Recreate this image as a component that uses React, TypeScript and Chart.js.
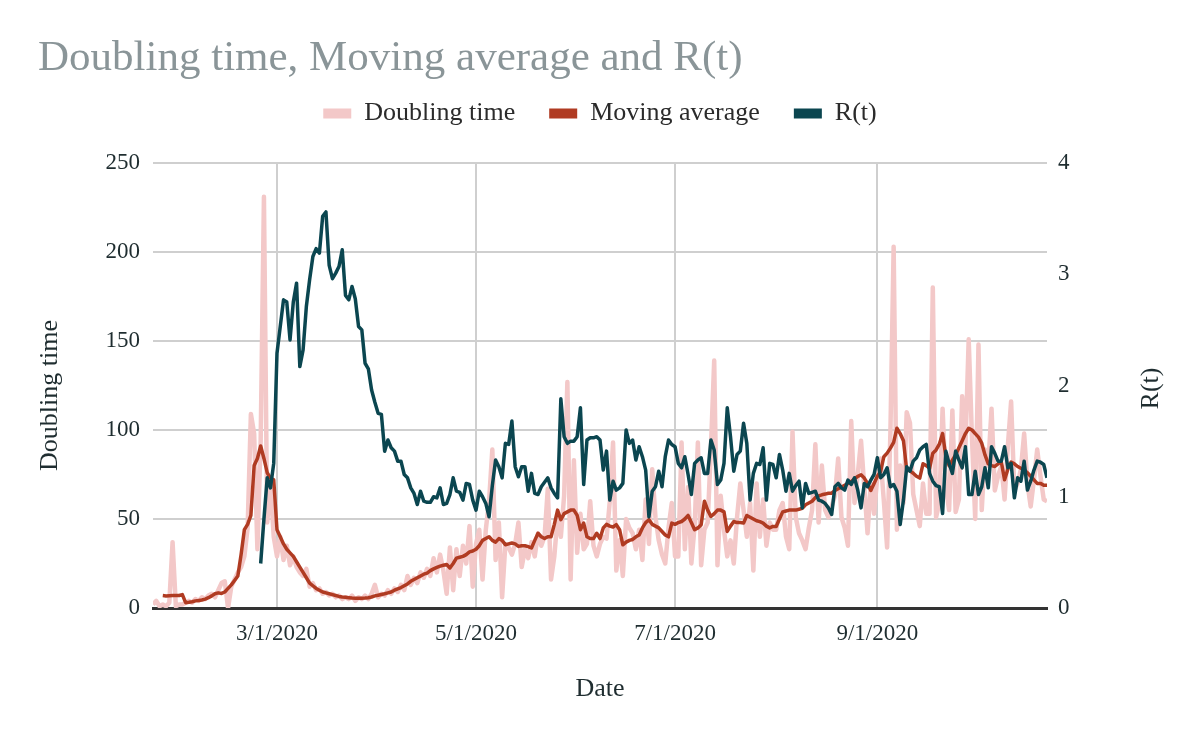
import React, { useEffect, useRef } from 'react';
import { Chart, registerables } from 'chart.js';

Chart.register(...registerables);

// ---- data (one value per day, starting 1/23/2020) ----
const startDate = [2020, 1, 23]; // year, month, day
const xTickLabels = ['3/1/2020', '5/1/2020', '7/1/2020', '9/1/2020'];
const leftTicks = [0, 50, 100, 150, 200, 250];
const rightTicks = [0, 1, 2, 3, 4];
const chartTitle = 'Doubling time, Moving average and R(t)';
const xAxisTitle = 'Date';
const leftAxisTitle = 'Doubling time';
const rightAxisTitle = 'R(t)';
const seriesNames = ['Doubling time', 'Moving average', 'R(t)'];

const doublingTime: (number | null)[] = [
  2, 4, 1, 2, 1, 3, 37, 1, 2, 2,
  3, 4, 3, 5, 4, 6, 5, 7, 8, 6,
  10, 14, 15, 0, 12, 16, 20, 23, 29, 45,
  109, 98, 33, 94, 231, 48, 70, 40, 29, 40,
  27, 35, 24, 29, 23, 20, 18, 22, 12, 14,
  10, 11, 8, 9, 7, 8, 6, 7, 5, 6,
  5, 7, 4, 6, 5, 7, 5, 8, 13, 6,
  8, 7, 10, 8, 11, 9, 13, 10, 18, 13,
  17, 14, 20, 17, 22, 18, 28, 20, 30, 21,
  8, 34, 10, 33, 18, 35, 25, 46, 12, 36,
  44, 16, 44, 60, 89, 27, 48, 6, 36, 34,
  30, 36, 48, 23, 33, 28, 37, 29, 42, 35,
  40, 67, 16, 29, 51, 40, 63, 127, 16, 83,
  31, 53, 33, 36, 60, 35, 29, 36, 40, 39,
  60, 93, 21, 38, 18, 50, 45, 42, 33, 44,
  27, 61, 36, 78, 51, 38, 30, 25, 45, 59,
  29, 29, 93, 33, 68, 25, 46, 93, 24, 44,
  48, 90, 139, 24, 63, 44, 29, 38, 25, 51,
  70, 55, 40, 59, 21, 70, 40, 61, 35, 48,
  44, 44, 55, 59, 40, 33, 99, 51, 42, 38,
  33, 45, 55, 92, 48, 80, 55, 51, 57, 63,
  84, 51, 45, 35, 105, 59, 75, 94, 68, 42,
  70, 53, 74, 84, 60, 34, 98, 203, 44, 80,
  59, 110, 104, 64, 55, 46, 70, 53, 53, 180,
  51, 59, 112, 68, 55, 111, 54, 61, 119, 91,
  151, 96, 50, 148, 55, 89, 80, 112, 66, 74,
  80, 61, 91, 116, 66, 70, 78, 98, 70, 57,
  72, 89, 74, 61, 60,
];

const movingAverage: (number | null)[] = [
  null, null, null, 7, 6.8, 6.9, 7, 7, 7, 7.5,
  3, 3.2, 3.5, 4, 4.2, 4.5, 5, 5.8, 6.8, 8,
  8.5, 8.2, 9, 11, 13, 15.5, 18, 30, 44, 47,
  52, 80, 84, 91, 84, 76, 73, 72, 44, 40,
  36, 33, 31, 29, 26, 23, 20, 17, 14, 12.5,
  11, 10, 9, 8.5, 8, 7.5, 7, 6.5, 6.2, 6,
  5.8, 5.6, 5.5, 5.5, 5.5, 5.6, 5.8, 6.2, 6.8, 7.2,
  7.6, 8, 8.5, 9, 10, 10.8, 11.5, 12.5, 13.5, 15,
  16, 17, 18, 19, 19.6, 21, 22, 22.8, 23.5, 24,
  24.5, 22.5, 25, 28, 28.5, 29, 30, 31.5, 32, 33,
  35, 38, 39, 40, 38, 37, 39, 38, 35.5, 36,
  36.5, 36, 34.6, 35, 35, 34.5, 33.7, 38, 42, 40,
  39, 40, 40, 47, 55, 49.6, 53, 54, 55, 55,
  52, 44, 47.7, 40, 39, 39, 42, 39, 45, 47,
  46, 45.5, 46.8, 44, 35.5, 37, 38, 38.5, 40, 41,
  45, 48, 49.6, 47, 46, 45, 43, 41, 40, 47.7,
  47, 48, 48.6, 50, 52, 48, 44, 45, 46.8, 60,
  55, 51.4, 53, 55, 55, 54, 43, 46, 48.6, 48,
  48, 47.7, 52, 51, 50, 49, 48.5, 47.7, 46, 45,
  45.8, 45.8, 50, 54, 54.5, 55, 55, 55, 55.5, 56,
  58, 59, 60, 62, 63, 63.6, 64, 64.5, 64.5, 66,
  67, 68, 69, 70, 71, 72.5, 74, 74.8, 73, 70,
  66, 70, 74, 76.7, 85, 87, 89.8, 93, 101, 98,
  94, 77.6, 77, 75.7, 74, 73, 81, 80, 78.5, 87,
  88.8, 92, 98, 85, 80, 83, 86, 90, 94, 98,
  101, 100, 98, 96, 92.6, 86, 81, 80, 79.5, 81,
  82, 72, 78, 82, 81, 79.5, 78.5, 77.6, 76, 74,
  72, 70, 70, 69, 69,
];

const rt: (number | null)[] = [
  null, null, null, null, null, null, null, null, null, null,
  null, null, null, null, null, null, null, null, null, null,
  null, null, null, null, null, null, null, null, null, null,
  null, null, null, 0.40, 0.80, 1.17, 1.08, 1.30, 2.29, 2.53,
  2.77, 2.75, 2.41, 2.75, 2.92, 2.17, 2.32, 2.71, 2.95, 3.16,
  3.23, 3.19, 3.52, 3.56, 3.08, 2.96, 3.01, 3.07, 3.22, 2.81,
  2.77, 2.89, 2.78, 2.53, 2.50, 2.20, 2.15, 1.96, 1.85, 1.75,
  1.74, 1.41, 1.51, 1.44, 1.41, 1.32, 1.32, 1.20, 1.17, 1.08,
  1.03, 0.93, 1.05, 0.96, 0.95, 0.95, 1.00, 0.99, 1.08, 0.93,
  0.94, 1.02, 1.17, 1.05, 1.04, 0.97, 1.12, 1.11, 0.97, 0.88,
  1.05, 1.00, 0.94, 0.82, 1.10, 1.33, 1.27, 1.17, 1.48, 1.47,
  1.68, 1.27, 1.18, 1.27, 1.27, 1.05, 1.21, 1.03, 1.02, 1.09,
  1.13, 1.17, 1.08, 1.03, 0.99, 1.88, 1.54, 1.48, 1.50, 1.50,
  1.54, 1.80, 1.11, 1.51, 1.53, 1.53, 1.54, 1.51, 1.24, 1.41,
  0.97, 1.14, 1.06, 1.08, 1.12, 1.60, 1.48, 1.51, 1.33, 1.45,
  1.36, 1.24, 0.82, 1.05, 1.09, 1.23, 1.09, 1.36, 1.51, 1.47,
  1.45, 1.30, 1.26, 1.36, 1.20, 1.02, 1.30, 1.33, 1.35, 1.21,
  1.21, 1.51, 1.42, 1.11, 1.15, 1.30, 1.80, 1.54, 1.23, 1.38,
  1.41, 1.66, 1.48, 0.97, 1.21, 1.30, 1.29, 1.44, 0.97, 1.30,
  1.29, 1.17, 1.38, 1.24, 1.05, 1.21, 1.05, 1.10, 1.14, 0.90,
  1.12, 1.03, 1.04, 1.05, 0.97, 0.96, 0.94, 0.90, 0.84, 1.09,
  1.12, 1.08, 1.06, 1.15, 1.11, 1.17, 1.06, 0.90, 1.12, 1.09,
  1.15, 1.20, 1.35, 1.17, 1.20, 1.26, 1.09, 1.11, 1.05, 0.75,
  0.97, 1.27, 1.23, 1.32, 1.35, 1.42, 1.45, 1.47, 1.21, 1.14,
  1.10, 1.09, 0.85, 1.41, 1.30, 1.21, 1.41, 1.33, 1.26, 1.45,
  1.02, 1.02, 1.23, 1.02, 1.09, 1.26, 1.08, 1.45, 1.39, 1.32,
  1.32, 1.45, 1.26, 1.30, 0.99, 1.17, 1.14, 1.32, 1.06, 1.14,
  1.24, 1.32, 1.31, 1.29, 1.17,
];

// ---- helpers ----
const FONT = '"Liberation Serif", "Times New Roman", serif';
const DAY_MS = 86400000;
const startUTC = Date.UTC(startDate[0], startDate[1] - 1, startDate[2]);
function dayIndexOf(label: string): number {
  const [m, d, y] = label.split('/').map(Number);
  return Math.round((Date.UTC(y, m - 1, d) - startUTC) / DAY_MS);
}
const toPoints = (arr: (number | null)[]) => arr.map((v, i) => ({ x: i, y: v }));
const TEXT_DARK = '#1f2d30';

// vertical axis titles, both reading bottom-to-top
const axisTitlesPlugin = {
  id: 'verticalAxisTitles',
  afterDraw(chart: any) {
    const { ctx, chartArea } = chart;
    const mid = (chartArea.top + chartArea.bottom) / 2;
    const draw = (text: string, x: number, y: number) => {
      ctx.save();
      ctx.translate(x, y);
      ctx.rotate(-Math.PI / 2);
      ctx.font = `26px ${FONT}`;
      ctx.fillStyle = TEXT_DARK;
      ctx.textAlign = 'center';
      ctx.textBaseline = 'middle';
      ctx.fillText(text, 0, 0);
      ctx.restore();
    };
    draw(leftAxisTitle, 50, mid + 10);
    draw(rightAxisTitle, 1151, mid + 3);
  },
};

export default function App() {
  const canvasRef = useRef<HTMLCanvasElement | null>(null);

  useEffect(() => {
    document.body.style.margin = '0';
    const canvas = canvasRef.current;
    if (!canvas) return;
    const gridColor = '#cfcfcf';

    const common = { pointRadius: 0, tension: 0, xAxisID: 'x', borderJoinStyle: 'round' };

    const chart = new Chart(canvas, {
      type: 'line',
      data: {
        datasets: [
          {
            ...common,
            label: seriesNames[0],
            data: toPoints(doublingTime),
            borderColor: '#f3c8c8',
            backgroundColor: '#f3c8c8',
            borderWidth: 4.5,
            yAxisID: 'y',
            order: 3,
          },
          {
            ...common,
            label: seriesNames[1],
            data: toPoints(movingAverage),
            borderColor: '#b03b22',
            backgroundColor: '#b03b22',
            borderWidth: 3.5,
            yAxisID: 'y',
            order: 2,
          },
          {
            ...common,
            label: seriesNames[2],
            data: toPoints(rt),
            borderColor: '#0b4650',
            backgroundColor: '#0b4650',
            borderWidth: 3.5,
            yAxisID: 'y1',
            order: 1,
          },
        ],
      },
      options: {
        animation: false,
        responsive: false,
        devicePixelRatio: 1,
        events: [],
        layout: { padding: { top: 33, left: 38, right: 38, bottom: 37 } },
        plugins: {
          title: {
            display: true,
            text: chartTitle,
            align: 'start',
            color: '#8a9598',
            font: { family: FONT, size: 43, weight: 'normal' },
            padding: { top: 0, bottom: -18.1 },
          },
          legend: {
            display: true,
            position: 'top',
            align: 'center',
            labels: {
              boxWidth: 28,
              boxHeight: 10,
              padding: 34,
              color: '#2b2b2b',
              font: { family: FONT, size: 26 },
              sort: (a: any, b: any) => a.datasetIndex - b.datasetIndex,
              generateLabels: (c: any) =>
                Chart.defaults.plugins.legend.labels
                  .generateLabels(c)
                  .map((l: any) => ({ ...l, lineWidth: 0 })),
            },
          },
          tooltip: { enabled: false },
        },
        scales: {
          x: {
            type: 'linear',
            position: 'bottom',
            min: 0,
            max: doublingTime.length - 1,
            afterBuildTicks: (s: any) => {
              s.ticks = xTickLabels.map((l) => ({ value: dayIndexOf(l) }));
            },
            ticks: {
              autoSkip: false,
              maxRotation: 0,
              padding: 12,
              color: TEXT_DARK,
              font: { family: FONT, size: 23 },
              callback: (v: any) => {
                const lab = xTickLabels.find((l) => dayIndexOf(l) === v);
                return lab ?? '';
              },
            },
            grid: { color: gridColor, lineWidth: 2, drawTicks: false },
            border: { display: true, color: '#333333', width: 3 },
            title: {
              display: true,
              text: xAxisTitle,
              color: TEXT_DARK,
              font: { family: FONT, size: 26 },
              padding: 0,
            },
            afterFit: (s: any) => {
              s.height = 97;
            },
          },
          spacer: {
            type: 'linear',
            axis: 'x',
            position: 'top',
            display: true,
            ticks: { display: false },
            grid: { display: false },
            border: { display: false },
            afterFit: (s: any) => {
              s.height = 26.5;
            },
          },
          y: {
            type: 'linear',
            position: 'left',
            min: leftTicks[0],
            max: leftTicks[leftTicks.length - 1],
            afterBuildTicks: (s: any) => {
              s.ticks = leftTicks.map((v) => ({ value: v }));
            },
            ticks: {
              padding: 13,
              color: TEXT_DARK,
              font: { family: FONT, size: 23 },
            },
            grid: {
              color: (c: any) => (c.tick && c.tick.value === 0 ? 'rgba(0,0,0,0)' : gridColor),
              lineWidth: 2,
              drawTicks: false,
            },
            border: { display: false },
            afterFit: (s: any) => {
              s.width = 115;
            },
          },
          y1: {
            type: 'linear',
            position: 'right',
            min: rightTicks[0],
            max: rightTicks[rightTicks.length - 1],
            afterBuildTicks: (s: any) => {
              s.ticks = rightTicks.map((v) => ({ value: v }));
            },
            ticks: {
              padding: 11,
              color: TEXT_DARK,
              font: { family: FONT, size: 23 },
            },
            grid: { display: false, drawTicks: false },
            border: { display: false },
            afterFit: (s: any) => {
              s.width = 115;
            },
          },
        },
      } as any,
      plugins: [axisTitlesPlugin],
    });

    return () => {
      chart.destroy();
    };
  }, []);

  return (
    <div style={{ width: 1200, height: 742, background: '#ffffff' }}>
      <canvas ref={canvasRef} width={1200} height={742} style={{ display: 'block' }} />
    </div>
  );
}
